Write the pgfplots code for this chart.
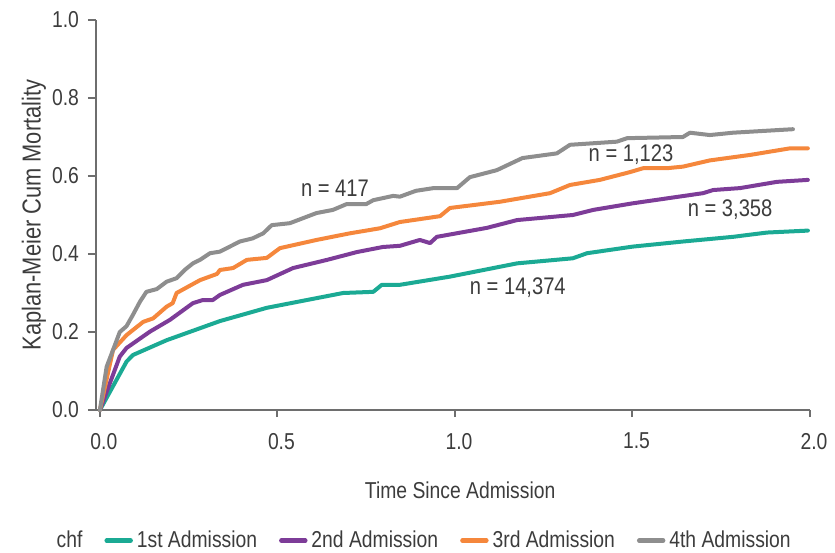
\documentclass[border=0pt]{standalone}
\usepackage{fontspec}
\setmainfont{Liberation Sans}[FakeStretch=0.84]
\usepackage{pgfplots}
\pgfplotsset{compat=1.18}

\definecolor{c1st}{HTML}{1BAA94}
\definecolor{c2nd}{HTML}{7D3C98}
\definecolor{c3rd}{HTML}{F5873C}
\definecolor{c4th}{HTML}{8E8E8E}
\definecolor{axisgray}{HTML}{6E6E6E}
\definecolor{txt}{HTML}{3C3C3C}

\newcommand{\chartfont}{\fontsize{11.5bp}{13bp}\selectfont}
\newcommand{\notefont}{\fontsize{12bp}{14bp}\selectfont}
\newcommand{\ylabfont}{\fontsize{13bp}{15bp}\selectfont}

\begin{document}
\begin{tikzpicture}
\begin{axis}[
  scale only axis,
  width=357bp, height=195bp,
  xmin=-0.011, xmax=2.0,
  ymin=0, ymax=1.0,
  axis x line*=bottom, axis y line*=left,
  axis line style={draw=axisgray, line width=1.1bp},
  xtick={0,0.5,1.0,1.5,2.0},
  ytick={0,0.2,0.4,0.6,0.8,1.0},
  tick align=outside,
  major tick length=4bp,
  tick style={draw=axisgray, line width=1bp},
  xtick style={/pgfplots/major tick length=3.5bp},
  /pgf/number format/assume math mode=true,
  /pgf/number format/fixed,
  /pgf/number format/fixed zerofill,
  /pgf/number format/precision=1,
  tick label style={font=\chartfont, text=txt},
  xticklabel style={xshift=2bp, yshift=-4bp},
  yticklabel style={xshift=-1bp},
  label style={font=\chartfont, text=txt},
  xlabel={Time Since Admission},
  ylabel={Kaplan-Meier Cum Mortality},
  xlabel style={at={(axis description cs:0.51,-0.205)}, anchor=center},
  ylabel style={font=\ylabfont, at={(axis description cs:-0.087,0.5)}, anchor=center, rotate=0},
  every axis plot/.append style={line width=2bp, line join=round, line cap=round},
  legend columns=5,
  legend style={
    at={(axis description cs:0.459,-0.335)}, anchor=center,
    draw=none, fill=none, font=\chartfont, text=txt,
    /tikz/every even column/.append style={column sep=9bp},
    inner sep=0pt,
  },
  legend image code/.code={\draw[line width=2.2bp, line cap=round] (0bp,0bp) -- (12bp,0bp);},
  clip=false,
]
\addlegendimage{empty legend}
\addlegendentry{chf}

% 1st admission
\addplot[c1st] coordinates {
 (0,0) (0.075,0.124) (0.093,0.141) (0.188,0.179) (0.338,0.228)
 (0.47,0.262) (0.583,0.282) (0.685,0.300) (0.77,0.303) (0.794,0.321)
 (0.845,0.321) (0.986,0.342) (1.175,0.376) (1.332,0.389) (1.372,0.402)
 (1.501,0.419) (1.642,0.432) (1.783,0.444) (1.879,0.455) (1.994,0.460)
};
\addlegendentry{1st Admission}

% 2nd admission
\addplot[c2nd] coordinates {
 (0,0) (0.056,0.137) (0.075,0.159) (0.141,0.201) (0.197,0.231)
 (0.262,0.274) (0.29,0.282) (0.318,0.282) (0.338,0.295) (0.403,0.321)
 (0.47,0.333) (0.544,0.364) (0.64,0.385) (0.724,0.405) (0.797,0.418)
 (0.845,0.421) (0.901,0.436) (0.93,0.428) (0.949,0.444) (1.09,0.467)
 (1.175,0.487) (1.332,0.500) (1.389,0.513) (1.501,0.530) (1.699,0.556)
 (1.727,0.564) (1.803,0.569) (1.907,0.585) (1.994,0.590)
};
\addlegendentry{2nd Admission}

% 3rd admission
\addplot[c3rd] coordinates {
 (0,0) (0.037,0.154) (0.075,0.192) (0.122,0.226) (0.15,0.235)
 (0.188,0.265) (0.205,0.274) (0.216,0.300) (0.282,0.333) (0.33,0.349)
 (0.338,0.359) (0.375,0.364) (0.414,0.385) (0.47,0.390) (0.507,0.415)
 (0.61,0.436) (0.704,0.453) (0.789,0.466) (0.845,0.482) (0.958,0.497)
 (0.986,0.518) (1.127,0.534) (1.268,0.556) (1.324,0.577) (1.408,0.590)
 (1.493,0.610) (1.53,0.620) (1.597,0.620) (1.642,0.624) (1.718,0.640)
 (1.831,0.654) (1.944,0.671) (1.994,0.671)
};
\addlegendentry{3rd Admission}

% 4th admission
\addplot[c4th] coordinates {
 (0,0) (0.019,0.111) (0.037,0.154) (0.056,0.200) (0.075,0.215)
 (0.093,0.244) (0.113,0.278) (0.131,0.303) (0.16,0.310) (0.188,0.329)
 (0.216,0.338) (0.24,0.360) (0.262,0.376) (0.282,0.385) (0.31,0.402)
 (0.338,0.406) (0.394,0.432) (0.43,0.440) (0.46,0.453) (0.484,0.474)
 (0.535,0.479) (0.61,0.505) (0.656,0.513) (0.695,0.528) (0.75,0.528)
 (0.77,0.538) (0.826,0.549) (0.845,0.547) (0.89,0.562) (0.94,0.569)
 (1.006,0.569) (1.042,0.597) (1.118,0.615) (1.19,0.646) (1.287,0.658)
 (1.324,0.680) (1.456,0.688) (1.485,0.697) (1.642,0.700) (1.662,0.711)
 (1.718,0.705) (1.783,0.711) (1.952,0.720)
};
\addlegendentry{4th Admission}

% group sizes
\node[font=\notefont, text=txt] at (axis cs:0.662,0.569) {n = 417};
\node[font=\notefont, text=txt] at (axis cs:1.496,0.654) {n = 1,123};
\node[font=\notefont, text=txt] at (axis cs:1.775,0.513) {n = 3,358};
\node[font=\notefont, text=txt] at (axis cs:1.177,0.313) {n = 14,374};
\end{axis}
\pgfresetboundingbox
\path[use as bounding box] (current axis.south west) ++(-48bp,-71.5bp)
  rectangle ([shift={(12.5bp,10bp)}]current axis.north east);
\end{tikzpicture}
\end{document}
